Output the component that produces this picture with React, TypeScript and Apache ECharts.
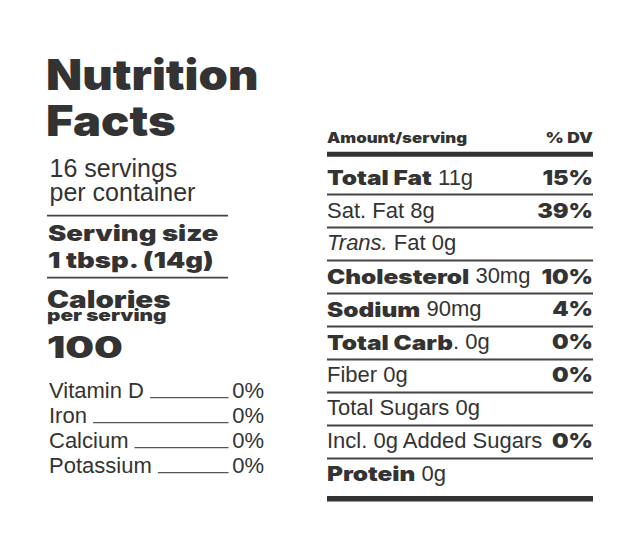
import React, { useEffect, useRef } from "react";
import * as echarts from "echarts";

const BOLD_FAMILY = "Inter";
const REG_FAMILY = "Liberation Sans";
const INK = "#333333";
const RULE = "#444444";

const titleLines = ["Nutrition", "Facts"];
const servingsLines = ["16 servings", "per container"];
const servingSizeLines = ["Serving size", "1 tbsp. (14g)"];
const caloriesLabel = "Calories";
const caloriesSub = "per serving";
const caloriesValue = "100";
const vitaminNames = ["Vitamin D", "Iron", "Calcium", "Potassium"];
const vitaminDV = ["0%", "0%", "0%", "0%"];
const headerLabels = ["Amount/serving", "% DV"];
const nutrientBold = ["Total Fat", "", "", "Cholesterol", "Sodium", "Total Carb", "", "", "", "Protein"];
const nutrientItalic = ["", "", "Trans.", "", "", "", "", "", "", ""];
const nutrientRest = [" 11g", "Sat. Fat 8g", " Fat 0g", " 30mg", " 90mg", ". 0g", "Fiber 0g", "Total Sugars 0g", "Incl. 0g Added Sugars", " 0g"];
const nutrientDV = ["15%", "39%", "", "10%", "4%", "0%", "0%", "", "0%", ""];

const canvas = typeof document !== "undefined" ? document.createElement("canvas") : null;
function measure(text: string, size: number, family: string, weight: number | string, italic = false) {
  const ctx = canvas!.getContext("2d")!;
  ctx.font = `${italic ? "italic " : ""}${weight} ${size}px "${family}"`;
  return ctx.measureText(text).width;
}

export default function App() {
  const ref = useRef<HTMLDivElement>(null);
  useEffect(() => {
    const chart = echarts.init(ref.current!, null, { renderer: "svg" });
    const els: any[] = [];
    const txt = (
      text: string,
      x: number,
      baseline: number,
      size: number,
      bold: boolean,
      align: string = "left",
      sx: number = 1,
      italic = false
    ) => {
      const family = bold ? BOLD_FAMILY : REG_FAMILY;
      const k = bold ? 0.363 : 0.3465;
      els.push({
        type: "text",
        x,
        y: baseline - k * size,
        scaleX: sx,
        silent: true,
        style: {
          text,
          fontSize: size,
          fontFamily: family,
          fontWeight: bold ? 900 : 400,
          fontStyle: italic ? "italic" : "normal",
          fill: INK,
          align,
          textAlign: align,
          verticalAlign: "middle",
          textVerticalAlign: "middle",
        },
      });
    };
    const rect = (x: number, y: number, w: number, h: number, fill: string) => {
      els.push({ type: "rect", silent: true, shape: { x, y, width: w, height: h }, style: { fill } });
    };

    // Left column
    titleLines.forEach((t, i) => txt(t, 46, 90 + i * 46, 42, true, "left", 1.12));
    servingsLines.forEach((t, i) => txt(t, 49.5, 176.3 + i * 24.7, 25, false));
    rect(47, 214.8, 181, 1.8, RULE);
    servingSizeLines.forEach((t, i) => txt(t, 48, 241 + i * 27.3, 22, true, "left", 1.25));
    rect(47, 276.8, 181, 1.8, RULE);
    txt(caloriesLabel, 47, 307.3, 24, true, "left", 1.23);
    txt(caloriesSub, 47, 321.7, 16.5, true, "left", 1.26);
    txt(caloriesValue, 47, 358, 30, true, "left", 1.35);
    vitaminNames.forEach((name, i) => {
      const base = 398.3 + i * 25;
      txt(name, 49, base, 22, false);
      txt(vitaminDV[i], 264, base, 22, false, "right");
      const start = 49 + measure(name + " ", 22, REG_FAMILY, 400);
      rect(start, base - 1.2, 228.5 - start, 1.1, "#555555");
    });

    // Right column
    txt(headerLabels[0], 327, 143.3, 14, true, "left", 1.2);
    txt(headerLabels[1], 593, 143.3, 14, true, "right", 1.25);
    rect(327, 151.7, 266, 5, INK);
    const BOLD_SX = 1.22;
    nutrientRest.forEach((rest, i) => {
      const base = 184.8 + i * 32.9;
      let x = 327;
      if (nutrientBold[i]) {
        txt(nutrientBold[i], x, base, 20, true, "left", BOLD_SX);
        x += measure(nutrientBold[i], 20, BOLD_FAMILY, 900) * BOLD_SX;
      }
      if (nutrientItalic[i]) {
        txt(nutrientItalic[i], x, base, 22, false, "left", 1, true);
        x += measure(nutrientItalic[i], 22, REG_FAMILY, 400, true);
      }
      let r = rest;
      const lead = r.length - r.trimStart().length;
      if (lead > 0) {
        x += measure(r.slice(0, lead), 22, REG_FAMILY, 400);
        r = r.trimStart();
      }
      txt(r, x, base, 22, false);
      if (nutrientDV[i]) txt(nutrientDV[i], 593, base, 20, true, "right", 1.17);
      if (i < nutrientRest.length - 1) rect(327, 194.5 + i * 33 - 0.9, 266, 1.8, RULE);
    });
    rect(327, 496, 266, 5.5, INK);

    chart.setOption({
      animation: false,
      backgroundColor: "#ffffff",
      graphic: { elements: els },
    });
    return () => chart.dispose();
  }, []);
  return (
    <div
      ref={ref}
      style={{ position: "fixed", left: 0, top: 0, width: 641, height: 537, background: "#fff" }}
    />
  );
}
